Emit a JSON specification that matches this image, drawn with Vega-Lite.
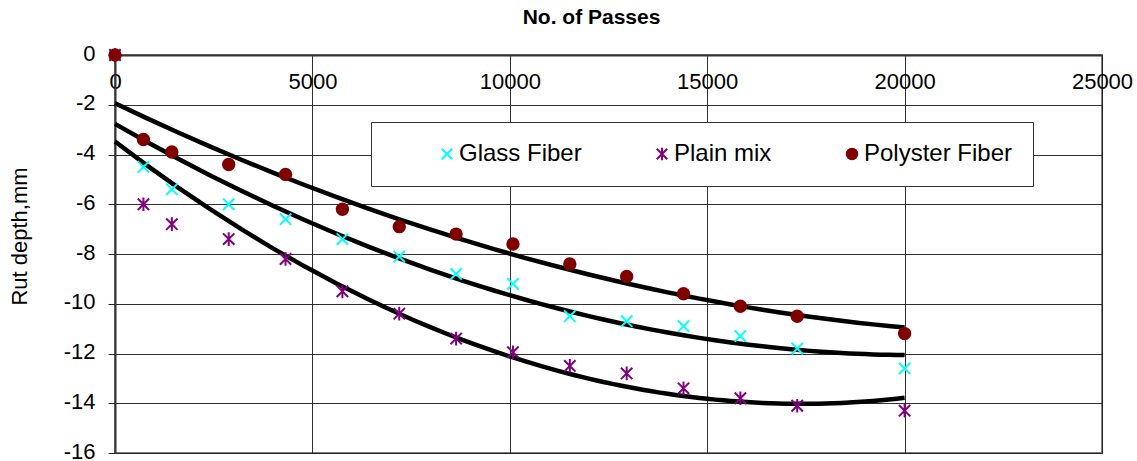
{
  "$schema": "https://vega.github.io/schema/vega-lite/v6.json",
  "width": 987,
  "height": 398,
  "autosize": {"type": "none"},
  "padding": {"left": 115, "top": 55, "right": 35, "bottom": 8},
  "background": "white",
  "title": {
    "text": "No. of Passes",
    "font": "Liberation Sans",
    "fontSize": 21,
    "fontWeight": "bold",
    "color": "#000",
    "anchor": "middle",
    "dx": -17,
    "offset": 14
  },
  "config": {
    "font": "Liberation Sans",
    "view": {"stroke": "#808080", "strokeWidth": 2},
    "axis": {
      "labelFont": "Liberation Sans",
      "titleFont": "Liberation Sans",
      "labelFontSize": 22,
      "titleFontSize": 22,
      "titleFontWeight": "normal",
      "labelColor": "#000",
      "titleColor": "#000",
      "gridColor": "#1a1a1a",
      "gridWidth": 1,
      "gridOpacity": 0.9,
      "domainColor": "#333",
      "domainWidth": 2,
      "tickColor": "#222",
      "labelOverlap": false,
      "labelBound": false,
      "labelFlush": false
    },
    "legend": {
      "labelFont": "Liberation Sans",
      "titleFont": "Liberation Sans"
    }
  },
  "data": {
    "values": [
      {"x": 0, "y": 0, "series": "Glass Fiber"},
      {"x": 720, "y": -4.5, "series": "Glass Fiber"},
      {"x": 1440, "y": -5.4, "series": "Glass Fiber"},
      {"x": 2880, "y": -6.0, "series": "Glass Fiber"},
      {"x": 4320, "y": -6.6, "series": "Glass Fiber"},
      {"x": 5760, "y": -7.4, "series": "Glass Fiber"},
      {"x": 7200, "y": -8.1, "series": "Glass Fiber"},
      {"x": 8640, "y": -8.8, "series": "Glass Fiber"},
      {"x": 10080, "y": -9.2, "series": "Glass Fiber"},
      {"x": 11520, "y": -10.5, "series": "Glass Fiber"},
      {"x": 12960, "y": -10.7, "series": "Glass Fiber"},
      {"x": 14400, "y": -10.9, "series": "Glass Fiber"},
      {"x": 15840, "y": -11.3, "series": "Glass Fiber"},
      {"x": 17280, "y": -11.8, "series": "Glass Fiber"},
      {"x": 20000, "y": -12.6, "series": "Glass Fiber"},
      {"x": 0, "y": 0, "series": "Plain mix"},
      {"x": 720, "y": -6.0, "series": "Plain mix"},
      {"x": 1440, "y": -6.8, "series": "Plain mix"},
      {"x": 2880, "y": -7.4, "series": "Plain mix"},
      {"x": 4320, "y": -8.2, "series": "Plain mix"},
      {"x": 5760, "y": -9.5, "series": "Plain mix"},
      {"x": 7200, "y": -10.4, "series": "Plain mix"},
      {"x": 8640, "y": -11.4, "series": "Plain mix"},
      {"x": 10080, "y": -11.95, "series": "Plain mix"},
      {"x": 11520, "y": -12.5, "series": "Plain mix"},
      {"x": 12960, "y": -12.8, "series": "Plain mix"},
      {"x": 14400, "y": -13.4, "series": "Plain mix"},
      {"x": 15840, "y": -13.8, "series": "Plain mix"},
      {"x": 17280, "y": -14.1, "series": "Plain mix"},
      {"x": 20000, "y": -14.3, "series": "Plain mix"},
      {"x": 0, "y": 0, "series": "Polyster Fiber"},
      {"x": 720, "y": -3.4, "series": "Polyster Fiber"},
      {"x": 1440, "y": -3.9, "series": "Polyster Fiber"},
      {"x": 2880, "y": -4.4, "series": "Polyster Fiber"},
      {"x": 4320, "y": -4.8, "series": "Polyster Fiber"},
      {"x": 5760, "y": -6.2, "series": "Polyster Fiber"},
      {"x": 7200, "y": -6.9, "series": "Polyster Fiber"},
      {"x": 8640, "y": -7.2, "series": "Polyster Fiber"},
      {"x": 10080, "y": -7.6, "series": "Polyster Fiber"},
      {"x": 11520, "y": -8.4, "series": "Polyster Fiber"},
      {"x": 12960, "y": -8.9, "series": "Polyster Fiber"},
      {"x": 14400, "y": -9.6, "series": "Polyster Fiber"},
      {"x": 15840, "y": -10.1, "series": "Polyster Fiber"},
      {"x": 17280, "y": -10.5, "series": "Polyster Fiber"},
      {"x": 20000, "y": -11.2, "series": "Polyster Fiber"}
    ]
  },
  "encoding": {
    "x": {
      "field": "x",
      "type": "quantitative",
      "scale": {"domain": [0, 25000], "nice": false, "zero": false},
      "axis": {
        "orient": "top",
        "title": null,
        "values": [0, 5000, 10000, 15000, 20000, 25000],
        "labelExpr": "datum.value + ''",
        "ticks": false,
        "tickSize": 0,
        "labelBaseline": "middle",
        "labelPadding": -26,
        "grid": true
      }
    },
    "y": {
      "field": "y",
      "type": "quantitative",
      "scale": {"domain": [-16, 0], "nice": false, "zero": false},
      "axis": {
        "title": "Rut depth,mm",
        "values": [-16, -14, -12, -10, -8, -6, -4, -2, 0],
        "labelExpr": "datum.value + ''",
        "labelOffset": -2,
        "tickSize": 7,
        "labelPadding": 13,
        "grid": true,
        "titleX": -84,
        "titleY": 181
      }
    }
  },
  "layer": [
    {
      "transform": [
        {"regression": "y", "on": "x", "groupby": ["series"], "method": "poly", "order": 2, "extent": [0, 20000]}
      ],
      "mark": {"type": "line", "color": "#000", "strokeWidth": 4.5, "strokeCap": "butt"},
      "encoding": {
        "detail": {"field": "series"}
      }
    },
    {
      "mark": {"type": "point", "filled": true, "size": 130, "strokeWidth": 2, "opacity": 1},
      "encoding": {
        "fill": {
          "field": "series",
          "type": "nominal",
          "scale": {"domain": ["Glass Fiber", "Plain mix", "Polyster Fiber"], "range": ["#00FFFF", "#800080", "#800000"]},
          "legend": {
            "title": " ",
            "titleOrient": "left",
            "titlePadding": 44,
            "orient": "none",
            "legendX": 256,
            "legendY": 67,
            "direction": "horizontal",
            "padding": 20,
            "strokeColor": "#333",
            "fillColor": "white",
            "columnPadding": 68,
            "labelOffset": 0,
            "labelFontSize": 24,
            "labelColor": "#000",
            "labelLimit": 400,
            "symbolSize": 110,
            "symbolStrokeWidth": 2
          }
        },
        "stroke": {
          "field": "series",
          "type": "nominal",
          "scale": {"domain": ["Glass Fiber", "Plain mix", "Polyster Fiber"], "range": ["#00FFFF", "#800080", "#800000"]}
        },
        "shape": {
          "field": "series",
          "type": "nominal",
          "scale": {"domain": ["Glass Fiber", "Plain mix", "Polyster Fiber"], "range": ["M-1,-1L1,1M-1,1L1,-1", "M-1,-1L1,1M-1,1L1,-1M0,-1.2L0,1.2", "circle"]}
        }
      }
    }
  ]
}
